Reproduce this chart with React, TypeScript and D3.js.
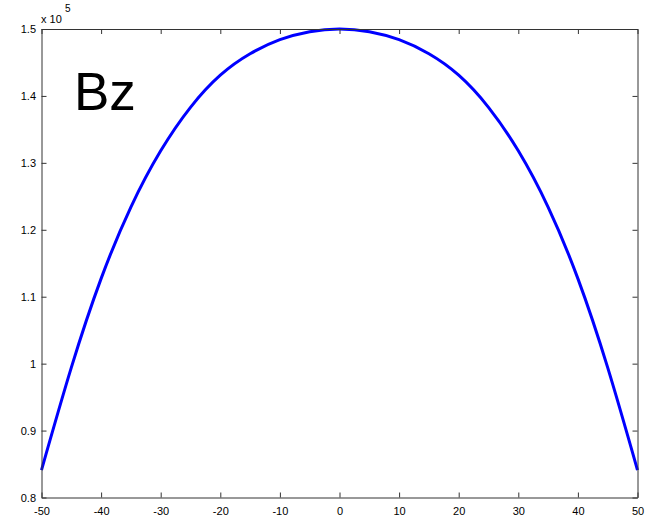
import React from "react";
import * as d3 from "d3";

// field along axis, values in units of 1e5
const positions = [-50, -45, -40, -35, -30, -25, -20, -15, -10, -5, 0, 5, 10, 15, 20, 25, 30, 35, 40, 45, 50];
const bzValues = [
  0.841, 0.994, 1.127, 1.234, 1.318, 1.383, 1.431, 1.463, 1.484, 1.496, 1.5,
  1.496, 1.484, 1.463, 1.431, 1.383, 1.318, 1.234, 1.127, 0.994, 0.841,
];
const xTicks = [-50, -40, -30, -20, -10, 0, 10, 20, 30, 40, 50];
const yTicks = [0.8, 0.9, 1, 1.1, 1.2, 1.3, 1.4, 1.5];

export default function App() {
  const width = 652;
  const height = 521;
  const left = 41.5;
  const right = 637.5;
  const top = 29;
  const bottom = 497.5;

  const svgRef = React.useRef<SVGSVGElement>(null);

  React.useEffect(() => {
    const svg = d3.select(svgRef.current);

    const xScale = d3.scaleLinear().domain([-50, 50]).range([left, right]);
    const yScale = d3.scaleLinear().domain([0.8, 1.5]).range([bottom, top]);

    const fmt = (v) => String(+(+v).toFixed(1));

    const styleAxis = (g) => {
      g.select(".domain").attr("stroke", "#333").attr("stroke-width", 1);
      g.selectAll(".tick line").attr("stroke", "#333");
      g.selectAll("text")
        .attr("fill", "#000")
        .style("font-family", "'Liberation Sans', Arial, sans-serif")
        .style("font-size", "11px");
    };

    svg
      .select(".x-axis")
      .attr("transform", `translate(0,${bottom})`)
      .call(d3.axisBottom(xScale).tickValues(xTicks).tickSizeInner(-5).tickSizeOuter(0).tickPadding(10).tickFormat(fmt))
      .call(styleAxis);

    svg
      .select(".x-axis-top")
      .attr("transform", `translate(0,${top})`)
      .call(d3.axisTop(xScale).tickValues(xTicks).tickSizeInner(-5).tickSizeOuter(0).tickFormat(() => ""))
      .call(styleAxis);

    svg
      .select(".y-axis")
      .attr("transform", `translate(${left},0)`)
      .call(d3.axisLeft(yScale).tickValues(yTicks).tickSizeInner(-5).tickSizeOuter(0).tickPadding(5.5).tickFormat(fmt))
      .call(styleAxis);

    svg
      .select(".y-axis-right")
      .attr("transform", `translate(${right},0)`)
      .call(d3.axisRight(yScale).tickValues(yTicks).tickSizeInner(-5).tickSizeOuter(0).tickFormat(() => ""))
      .call(styleAxis);

    const line = d3
      .line<number>()
      .x((d, i) => xScale(positions[i]))
      .y((d) => yScale(d))
      .curve(d3.curveNatural);

    svg
      .select(".plot")
      .selectAll(".line")
      .data([bzValues])
      .join("path")
      .attr("class", "line")
      .attr("d", line)
      .attr("fill", "none")
      .attr("stroke", "#0000ff")
      .attr("stroke-width", 3);
  }, []);

  return (
    <svg
      ref={svgRef}
      width={width}
      height={height}
      style={{ position: "absolute", left: 0, top: 0, background: "#fff" }}
    >
      <rect x={0} y={0} width={width} height={height} fill="#fff" />
      <g className="plot" />
      <g className="x-axis" />
      <g className="x-axis-top" />
      <g className="y-axis" />
      <g className="y-axis-right" />
      <text x={41} y={23} fontFamily="'Liberation Sans', Arial, sans-serif" fontSize={11} fill="#000">
        x 10
      </text>
      <text x={65} y={12} fontFamily="'Liberation Sans', Arial, sans-serif" fontSize={10} fill="#000">
        5
      </text>
      <text x={74} y={110} fontFamily="'Liberation Sans', Arial, sans-serif" fontSize={53} fill="#000">
        Bz
      </text>
    </svg>
  );
}
